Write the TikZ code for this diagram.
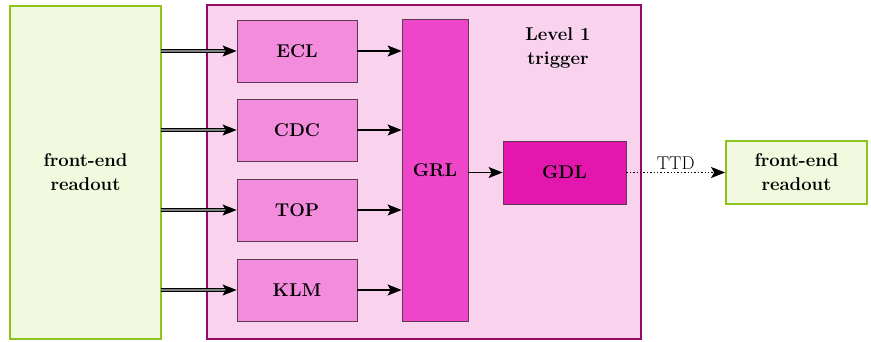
\documentclass[tikz,border=0pt]{standalone}
\usetikzlibrary{arrows.meta}
\definecolor{feFill}{HTML}{F1F9DF}
\definecolor{feLine}{HTML}{8DC21F}
\definecolor{trFill}{HTML}{F9D3EE}
\definecolor{trLine}{HTML}{8E0F61}
\definecolor{subFill}{HTML}{F38CDD}
\definecolor{subLine}{HTML}{5E3A52}
\definecolor{grlFill}{HTML}{EE45C9}
\definecolor{gdlFill}{HTML}{E317AE}
\newcommand{\labfont}{\fontsize{18.5}{24}\selectfont}
\tikzset{
  px/.style={x=1pt,y=-1pt},
  lab/.style={font=\labfont\bfseries,align=center},
  fe/.style={draw=feLine,fill=feFill,line width=1.8pt,lab},
  sub/.style={draw=subLine,fill=subFill,line width=0.8pt,lab},
  arr/.style={-{Stealth[length=14pt,width=11pt,inset=3pt]},line width=1.4pt},
  bus/.style={-{Stealth[length=14pt,width=11pt,inset=3pt]},draw=black,line width=1.4pt,double=gray,double distance=2pt},
}
\begin{document}
\begin{tikzpicture}[px]
\useasboundingbox (0,0) rectangle (871,341);
% readout on the left and on the right
\draw[fe] (10,6) rectangle (161,339);
\node[lab] (fel) at (85.5,172) {front-end\\readout};
% level 1 trigger frame
\draw[draw=trLine,fill=trFill,line width=1.8pt] (207,5) rectangle (641,339);
\node[lab] (lvl) at (558,48) {Level 1\\trigger};
% sub-detector trigger boxes
\node[sub,minimum width=120pt,minimum height=62pt] (ecl) at (297,51) {ECL};
\node[sub,minimum width=120pt,minimum height=62pt] (cdc) at (297,130) {CDC};
\node[sub,minimum width=120pt,minimum height=62pt] (top) at (297,210) {TOP};
\node[sub,minimum width=120pt,minimum height=62pt] (klm) at (297,290) {KLM};
% global reasoning and decision logic
\node[sub,fill=grlFill,minimum width=66pt,minimum height=302pt] (grl) at (435,170) {GRL};
\node[sub,fill=gdlFill,minimum width=123pt,minimum height=63pt] (gdl) at (564.5,172.5) {GDL};
\node[fe,minimum width=141pt,minimum height=63pt] (fer) at (796.5,172.5) {front-end\\readout};
% bus inputs from the front-end readout, then on to the GRL
\foreach \n in {ecl,cdc,top,klm}{
  \draw[bus] (161,0 |- \n.west) -- (\n.west);
  \draw[arr] (\n.east) -- (grl.west |- \n.east);
}
\draw[arr] (grl.east |- gdl.west) -- (gdl.west);
\draw[arr,dotted] (gdl.east) -- node[above,font=\labfont,yshift=-1pt] {TTD} (fer.west);
\end{tikzpicture}
\end{document}
